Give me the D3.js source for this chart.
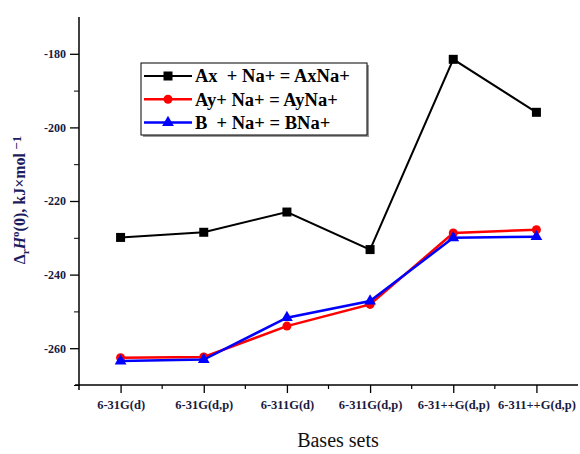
<!DOCTYPE html>
<html><head><meta charset="utf-8">
<script src="https://cdn.jsdelivr.net/npm/d3@7/dist/d3.min.js"></script>
<style>body{margin:0;background:#fff}svg{display:block}</style>
</head><body>
<script>
const categories = ["6-31G(d)","6-31G(d,p)","6-311G(d)","6-311G(d,p)","6-31++G(d,p)","6-311++G(d,p)"];
const seriesNames = ["Ax  + Na+ = AxNa+","Ay+ Na+ = AyNa+","B  + Na+ = BNa+"];
const axValues = [-229.9,-228.5,-223.0,-233.2,-181.5,-195.9];
const ayValues = [-262.6,-262.4,-254.0,-248.1,-228.7,-227.8];
const bValues  = [-263.5,-263.1,-251.7,-247.2,-230.0,-229.7];
const yTicks = [-180,-200,-220,-240,-260];
const yMinorTicks = [-190,-210,-230,-250,-270];

const W=580,H=454;
const svg=d3.select("body").append("svg").attr("width",W).attr("height",H);
const serif="'Liberation Serif','Times New Roman',serif";

const x0=79, x1=578, yTop=17, yBot=385;
const x=d3.scalePoint().domain(categories).range([x0,x1]).padding(0.5);
const y=d3.scaleLinear().domain([-270,-170]).range([yBot,yTop]);
const step=x.step();

// axes
const g=svg.append("g");
g.append("line").attr("x1",x0).attr("x2",x0).attr("y1",yTop).attr("y2",yBot+5).attr("stroke","#000").attr("stroke-width",1.5);
g.append("line").attr("x1",x0-4).attr("x2",x1).attr("y1",yBot).attr("y2",yBot).attr("stroke","#000").attr("stroke-width",1.5);

const yAxis=d3.axisLeft(y).tickValues(yTicks).tickSize(9).tickFormat(d=>"-"+Math.abs(d));
const ya=svg.append("g").attr("transform",`translate(${x0},0)`).call(yAxis);
ya.select(".domain").remove();
ya.selectAll(".tick line").attr("stroke-width",1.3);
ya.selectAll(".tick text").attr("font-family",serif).attr("font-size",12).attr("font-weight","bold").attr("fill","#1a1a40").attr("x",-13);
const yMinor=d3.axisLeft(y).tickValues(yMinorTicks).tickSize(5).tickFormat("");
const ym=svg.append("g").attr("transform",`translate(${x0},0)`).call(yMinor);
ym.select(".domain").remove();

const xAxis=d3.axisBottom(x).tickSize(8);
const xa=svg.append("g").attr("transform",`translate(0,${yBot})`).call(xAxis);
xa.select(".domain").remove();
xa.selectAll(".tick line").attr("stroke-width",1.3);
xa.selectAll(".tick text").attr("font-family",serif).attr("font-size",12.5).attr("font-weight","bold").attr("fill","#1a1a40").attr("dy","1.05em");
// minor x ticks at boundaries
const boundaries=categories.map((c,i)=>x(c)+step/2).slice(0,-1);
svg.append("g").selectAll("line").data(boundaries).join("line")
  .attr("x1",d=>d).attr("x2",d=>d).attr("y1",yBot).attr("y2",yBot+4).attr("stroke","#000").attr("stroke-width",1.2);

// lines
const series=[
  {name:seriesNames[0],values:axValues,color:"#000",marker:"square",w:2},
  {name:seriesNames[1],values:ayValues,color:"#ff0000",marker:"circle",w:2.5},
  {name:seriesNames[2],values:bValues,color:"#0000ff",marker:"triangle",w:2.5}
];
const line=d3.line().x((d,i)=>x(categories[i])).y(d=>y(d));
function drawMarker(sel,type,color){
  if(type==="square") sel.append("rect").attr("x",-4.5).attr("y",-4.5).attr("width",9).attr("height",9).attr("fill",color);
  else if(type==="circle") sel.append("circle").attr("r",4.5).attr("fill",color);
  else sel.append("path").attr("d",d3.symbol().type(d3.symbolTriangle).size(60)()).attr("fill",color);
}
series.forEach(s=>{
  svg.append("path").datum(s.values).attr("d",line).attr("fill","none").attr("stroke",s.color).attr("stroke-width",s.w);
  s.values.forEach((v,i)=>{
    const m=svg.append("g").attr("transform",`translate(${x(categories[i])},${y(v)})`);
    drawMarker(m,s.marker,s.color);
  });
});

// legend
const lg=svg.append("g");
lg.append("rect").attr("x",143).attr("y",65).attr("width",226).attr("height",72).attr("fill","#999");
lg.append("rect").attr("x",141).attr("y",63).attr("width",226).attr("height",72).attr("fill","#fff").attr("stroke","#000").attr("stroke-width",1);
series.forEach((s,i)=>{
  const yy=76+i*23.3;
  lg.append("line").attr("x1",144).attr("x2",192).attr("y1",yy).attr("y2",yy).attr("stroke",s.color).attr("stroke-width",s.w);
  const m=lg.append("g").attr("transform",`translate(168,${yy})`);
  drawMarker(m,s.marker,s.color);
  lg.append("text").attr("x",195).attr("y",yy).attr("dy","0.35em").attr("font-family",serif).attr("font-size",18.5).attr("font-weight","bold").attr("fill","#000").attr("xml:space","preserve").style("white-space","pre").text(s.name);
});

// y label
const yl=svg.append("text").attr("transform","translate(25,200) rotate(-90)").attr("text-anchor","middle")
  .attr("font-family",serif).attr("font-size",16).attr("font-weight","bold").attr("fill","#1b1b5e");
yl.append("tspan").text("Δ");
yl.append("tspan").attr("font-size",11).attr("dy",4).text("r");
yl.append("tspan").attr("font-style","italic").attr("dy",-4).text("H");
yl.append("tspan").attr("font-size",11).attr("dy",-6).text("o");
yl.append("tspan").attr("dy",6).text("(0), kJ×mol");
yl.append("tspan").attr("font-size",13).attr("dy",-4).text(" −1");

// x label
svg.append("text").attr("x",338).attr("y",447).attr("text-anchor","middle").attr("font-family",serif).attr("font-size",20).attr("fill","#111").text("Bases sets");
</script>
</body></html>
